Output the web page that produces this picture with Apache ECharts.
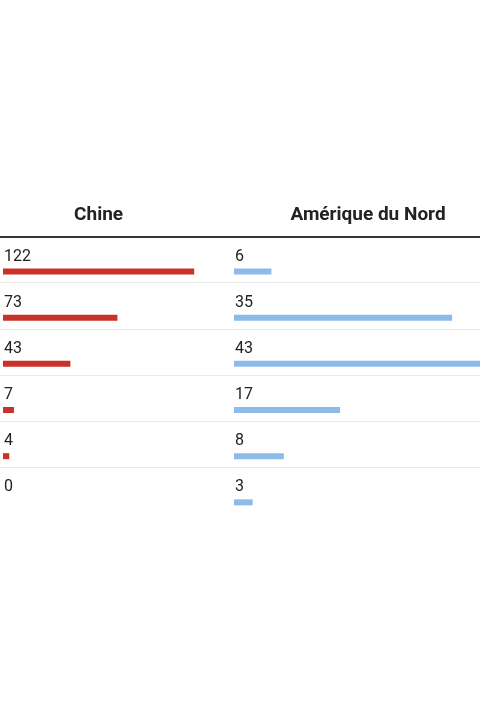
<!DOCTYPE html>
<html>
<head>
<meta charset="utf-8">
<script src="https://cdn.jsdelivr.net/npm/echarts@6/dist/echarts.min.js"></script>
<style>
  html, body { margin: 0; padding: 0; background: #fff; }
  #chart { width: 480px; height: 720px; }
</style>
</head>
<body>
<div id="chart"></div>
<script>
// rows of the table (their labels are outside the visible area)
var rows = ['1', '2', '3', '4', '5', '6'];
var columns = ['Chine', 'Amérique du Nord'];
var chine = [122, 73, 43, 7, 4, 0];
var ameriqueNord = [6, 35, 43, 17, 8, 3];

var rowTop = 236.5, rowH = 46.17;
var bandShift = 35 - rowH / 2;   // bar sits low in each row, number above it

function valueAxis(idx, name) {
    return {
        type: 'value', gridIndex: idx, min: 0, max: 'dataMax', position: 'top',
        name: name, nameLocation: 'middle', nameGap: 33,
        nameTextStyle: { fontFamily: 'Roboto', fontWeight: 'bold', fontSize: 19, color: '#222', verticalAlign: 'middle' },
        axisLine: { show: false }, axisTick: { show: false },
        axisLabel: { show: false }, splitLine: { show: false }
    };
}
function rowAxis(idx) {
    return {
        type: 'category', gridIndex: idx, data: rows, inverse: true,
        axisLine: { show: false }, axisTick: { show: false },
        axisLabel: { show: false }, splitLine: { show: false }
    };
}
function barSeries(idx, data, color) {
    return {
        type: 'bar', xAxisIndex: idx, yAxisIndex: idx, data: data,
        barWidth: 6, silent: true,
        itemStyle: { color: color },
        label: {
            show: true, position: [1, -12], align: 'left', verticalAlign: 'middle',
            fontFamily: 'Roboto', fontSize: 16, color: '#222'
        }
    };
}

var frameX = {
    type: 'value', gridIndex: 0, min: 0, max: 1, position: 'top',
    axisLine: { show: true, lineStyle: { color: '#333', width: 2 } },
    axisTick: { show: false }, axisLabel: { show: false }, splitLine: { show: false }
};
var frameY = {
    type: 'category', gridIndex: 0, data: rows, inverse: true,
    axisLine: { show: false }, axisTick: { show: false }, axisLabel: { show: false },
    splitLine: { show: true, showMinLine: false, showMaxLine: false, lineStyle: { color: '#e9e9e9', width: 1 } }
};

var option = {
    backgroundColor: '#fff',
    animation: false,
    grid: [
        { left: 0, right: 0, top: rowTop, height: rowH * rows.length, outerBoundsMode: 'none' },
        { left: 3, width: 191.2, top: rowTop + bandShift, height: rowH * rows.length, outerBoundsMode: 'none' },
        { left: 234, width: 268, top: rowTop + bandShift, height: rowH * rows.length, outerBoundsMode: 'none' }
    ],
    xAxis: [frameX, valueAxis(1, columns[0]), valueAxis(2, columns[1])],
    yAxis: [frameY, rowAxis(1), rowAxis(2)],
    series: [
        barSeries(1, chine, '#c8322b'),
        barSeries(2, ameriqueNord, '#8cbbea')
    ]
};

var myChart = echarts.init(document.getElementById('chart'));
myChart.setOption(option);
</script>
</body>
</html>
